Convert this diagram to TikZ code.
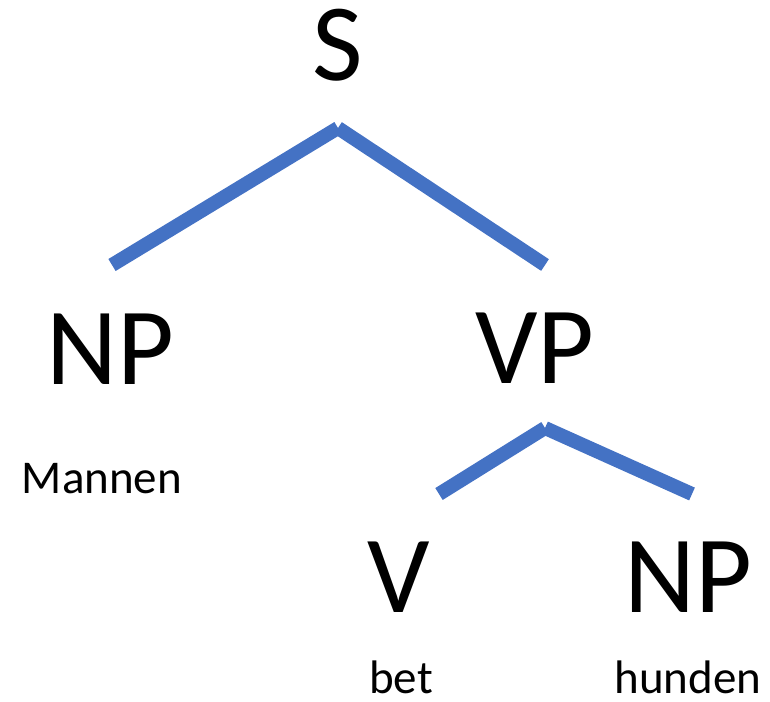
\documentclass[tikz,border=0pt]{standalone}
\usepackage{fontspec}
\setmainfont{Carlito}
\definecolor{treeblue}{HTML}{4472C4}
\tikzset{
  cat/.style={anchor=base,inner sep=0pt,font=\fontsize{110}{110}\selectfont},
  word/.style={anchor=base,inner sep=0pt,font=\fontsize{47}{47}\selectfont},
  branch/.style={draw=treeblue,line width=14pt,line cap=butt}
}
\begin{document}
\begin{tikzpicture}[x=1pt,y=-1pt]
\useasboundingbox (0,0) rectangle (770,701);
\node[cat] (S) at (337.5,81) {S};
\node[cat] (NPa) at (110,384) {NP};
\node[cat] (VP) at (535,383) {VP};
\node[cat] (V) at (399,612) {V};
\node[cat] (NPb) at (688,612) {NP};
\node[word] (mannen) at (102,493) {Mannen};
\node[word] (bet) at (401,693) {bet};
\node[word] (hunden) at (688,693) {hunden};
\coordinate (s-apex) at (338,128);
\coordinate (npa-top) at (112,265);
\coordinate (vp-top) at (545,265);
\coordinate (vp-apex) at (545,428);
\coordinate (v-top) at (439,494);
\coordinate (npb-top) at (692,494);
\draw[branch] (s-apex) -- (npa-top);
\draw[branch] (s-apex) -- (vp-top);
\draw[branch] (vp-apex) -- (v-top);
\draw[branch] (vp-apex) -- (npb-top);
\end{tikzpicture}
\end{document}
